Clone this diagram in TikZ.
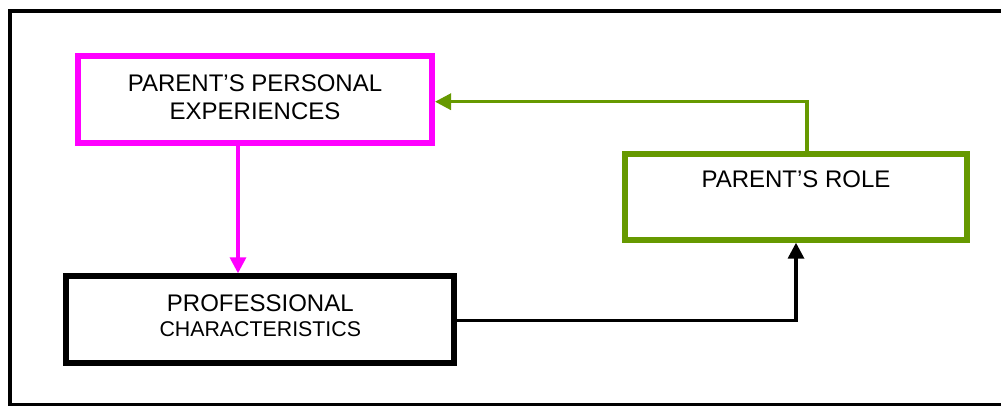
\documentclass[tikz,border=0pt]{standalone}
\usepackage{fontspec}
\setmainfont{Liberation Sans}
\usetikzlibrary{arrows.meta}
\definecolor{pinkc}{RGB}{255,0,255}
\definecolor{greenc}{RGB}{102,153,0}
\tikzset{
  box/.style={draw, line width=4.5pt, inner sep=0pt, align=center, fill=white,
    font=\fontsize{18}{21}\selectfont, text=black},
  conn/.style={line width=2.5pt, -{Triangle[length=12pt,width=12pt]}},
  frame/.style={draw=black, line width=3pt}
}
\begin{document}
\begin{tikzpicture}[x=0.75pt, y=-0.75pt]
\useasboundingbox (0,0) rectangle (1001,405);
\clip (0,0) rectangle (1001,405);
\draw[frame] (10,11) rectangle (1006,405);

\node[box, draw=pinkc, minimum width=265.5pt, minimum height=65.25pt,
  text height=30.45pt, text depth=0pt] (pink) at (255,99.2)
  {PARENT’S PERSONAL\\EXPERIENCES};
\node[box, draw=black, minimum width=291pt, minimum height=64.8pt,
  text height=25.5pt, text depth=0pt] (prof) at (260.3,319.5)
  {PROFESSIONAL\\[-2pt]{\fontsize{16}{19}\selectfont CHARACTERISTICS}};
\node[box, draw=greenc, minimum width=256.5pt, minimum height=64.5pt,
  text height=12pt, text depth=25.35pt] (role) at (796,196.7)
  {PARENT’S ROLE};

\coordinate (px) at (238,0);
\coordinate (gcorner) at (807,101.7);
\coordinate (bcorner) at (796,320.5);

\draw[conn, draw=pinkc] (pink.south -| px) -- (prof.north -| px);
\draw[conn, draw=greenc] (role.north -| gcorner) -- (gcorner) -- (pink.east |- gcorner);
\draw[conn, draw=black] (prof.east |- bcorner) -- (bcorner) -- (role.south -| bcorner);
\end{tikzpicture}
\end{document}
